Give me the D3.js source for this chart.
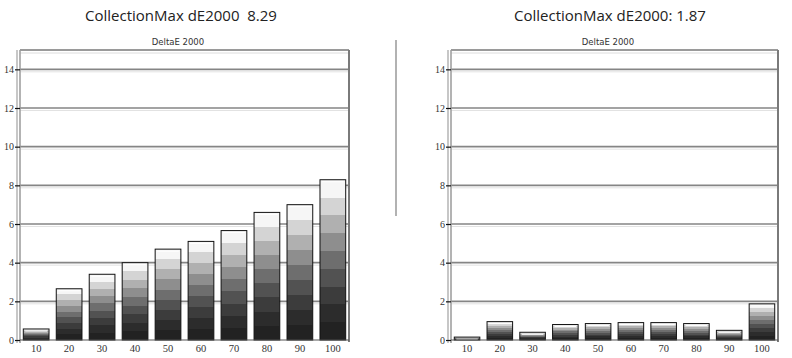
<!DOCTYPE html>
<html>
<head>
<meta charset="utf-8">
<script src="https://cdn.jsdelivr.net/npm/d3@7"></script>
<style>
html,body{margin:0;padding:0;background:#fff;}
svg{display:block;}
</style>
</head>
<body>
<svg id="chart" width="792" height="358"></svg>
<script>
const categories = ["10","20","30","40","50","60","70","80","90","100"];
const leftValues = [0.57, 2.65, 3.4, 4.0, 4.7, 5.1, 5.66, 6.6, 7.0, 8.29];
const rightValues = [0.15, 0.95, 0.4, 0.8, 0.85, 0.9, 0.9, 0.85, 0.5, 1.87];
const yTicks = [0, 2, 4, 6, 8, 10, 12, 14];
const titles = ["CollectionMax dE2000  8.29", "CollectionMax dE2000: 1.87"];
const subtitle = "DeltaE 2000";

const svg = d3.select("#chart");
const defs = svg.append("defs");

// stepped gray gradient (dark bottom -> light top)
const bandColors = ["#222222", "#2c2c2c", "#3c3c3c", "#525252", "#6e6e6e", "#8e8e8e", "#b0b0b0", "#d4d4d4", "#f6f6f6"];
const grad = defs.append("linearGradient").attr("id", "barGrad")
  .attr("x1", 0).attr("y1", 1).attr("x2", 0).attr("y2", 0);
const nb = bandColors.length;
bandColors.forEach((c, i) => {
  grad.append("stop").attr("offset", i / nb).attr("stop-color", c);
  grad.append("stop").attr("offset", (i + 1) / nb).attr("stop-color", c);
});

const panels = [
  {x0: 20, x1: 349, values: leftValues, title: titles[0], tx: 181, sx: 178},
  {x0: 451, x1: 778, values: rightValues, title: titles[1], tx: 610, sx: 608}
];
const plotTop = 50, plotBottom = 340;

const y = d3.scaleLinear().domain([0, 15]).range([plotBottom, plotTop]);

panels.forEach(p => {
  const g = svg.append("g");
  const x = d3.scaleBand().domain(categories).range([p.x0, p.x1]).paddingInner(0.22).paddingOuter(0.1);

  // titles
  g.append("text").attr("x", p.tx).attr("y", 21).attr("text-anchor", "middle")
    .attr("font-family", "Open Sans, sans-serif").attr("font-size", 15).attr("fill", "#222")
    .text(p.title.replace(/  /g, " \u00a0"));
  g.append("text").attr("x", p.sx).attr("y", 45).attr("text-anchor", "middle")
    .attr("font-family", "DejaVu Sans, sans-serif").attr("font-size", 8.5).attr("fill", "#333")
    .text(subtitle);

  // frame: top
  g.append("line").attr("x1", p.x0).attr("x2", p.x1).attr("y1", plotTop).attr("y2", plotTop)
    .attr("stroke", "#9a9a9a").attr("stroke-width", 2);
  g.append("line").attr("x1", p.x0).attr("x2", p.x1).attr("y1", plotTop + 3).attr("y2", plotTop + 3)
    .attr("stroke", "#dcdcdc").attr("stroke-width", 1);

  // gridlines
  g.selectAll(".grid").data(yTicks.filter(t => t > 0)).join("line")
    .attr("x1", p.x0).attr("x2", p.x1)
    .attr("y1", d => y(d)).attr("y2", d => y(d))
    .attr("stroke", "#858585").attr("stroke-width", 1.6);
  g.selectAll(".grid2").data(yTicks.filter(t => t > 0)).join("line")
    .attr("x1", p.x0).attr("x2", p.x1)
    .attr("y1", d => y(d) + 2.5).attr("y2", d => y(d) + 2.5)
    .attr("stroke", "#e2e2e2").attr("stroke-width", 1);

  // right border
  g.append("line").attr("x1", p.x1).attr("x2", p.x1).attr("y1", plotTop).attr("y2", plotBottom + 2)
    .attr("stroke", "#7a7a7a").attr("stroke-width", 2);

  // left axis
  g.append("line").attr("x1", p.x0 - 3).attr("x2", p.x0 - 3).attr("y1", plotTop).attr("y2", plotBottom + 3)
    .attr("stroke", "#b5b5b5").attr("stroke-width", 1.5);
  g.append("line").attr("x1", p.x0).attr("x2", p.x0).attr("y1", plotTop).attr("y2", plotBottom + 3)
    .attr("stroke", "#9a9a9a").attr("stroke-width", 1.5);

  const yAxis = d3.axisLeft(y).tickValues(yTicks).tickSize(5).tickFormat(d3.format("d"));
  const ya = g.append("g").attr("transform", `translate(${p.x0},0)`).call(yAxis);
  ya.select(".domain").remove();
  ya.selectAll(".tick line").attr("stroke", "#111").attr("stroke-width", 1.2);
  ya.selectAll(".tick text").attr("font-family", "Liberation Serif, serif").attr("font-size", 10)
    .attr("fill", "#333").attr("x", -6);

  // bars
  g.selectAll(".bar").data(p.values).join("rect")
    .attr("x", (d, i) => x(categories[i]))
    .attr("width", x.bandwidth())
    .attr("y", d => y(d))
    .attr("height", d => y(0) - y(d))
    .attr("fill", "url(#barGrad)")
    .attr("stroke", "#111").attr("stroke-width", 1);
  g.selectAll(".barhl").data(p.values).join("line")
    .attr("x1", (d, i) => x(categories[i]) + 2)
    .attr("x2", (d, i) => x(categories[i]) + x.bandwidth() - 2)
    .attr("y1", d => y(d) + 2).attr("y2", d => y(d) + 2)
    .attr("stroke", "#fff").attr("stroke-width", 1);

  // baseline
  g.append("line").attr("x1", p.x0).attr("x2", p.x1).attr("y1", plotBottom).attr("y2", plotBottom)
    .attr("stroke", "#555").attr("stroke-width", 1);

  // x axis
  const xAxis = d3.axisBottom(x).tickSize(0).tickPadding(5);
  const xa = g.append("g").attr("transform", `translate(0,${plotBottom})`).call(xAxis);
  xa.select(".domain").remove();
  xa.selectAll(".tick text").attr("font-family", "Liberation Serif, serif").attr("font-size", 10.5)
    .attr("fill", "#333");
});

// separator
svg.append("line").attr("x1", 396).attr("x2", 396).attr("y1", 40).attr("y2", 216)
  .attr("stroke", "#999").attr("stroke-width", 1.5);
</script>
</body>
</html>
